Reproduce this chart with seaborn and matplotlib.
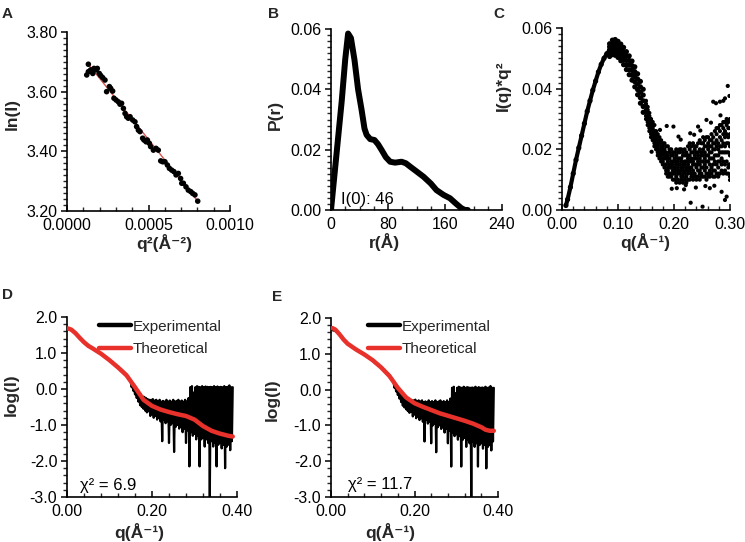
import numpy as np
import matplotlib
matplotlib.use("Agg")
import matplotlib.pyplot as plt
from matplotlib.ticker import MultipleLocator, FormatStrFormatter
import seaborn as sns

# ---------------- data ----------------
# Panel A: Guinier plot
a_q2 = [0.000121, 0.000131, 0.000131, 0.000145, 0.000158, 0.000166, 0.000178, 0.000186, 0.000198,
        0.000207, 0.000219, 0.000233, 0.000243, 0.000260, 0.000268, 0.000280, 0.000288, 0.000301,
        0.000315, 0.000325, 0.000335, 0.000346, 0.000356, 0.000366, 0.000376, 0.000387, 0.000403,
        0.000417, 0.000427, 0.000438, 0.000448, 0.000464, 0.000472, 0.000485, 0.000493, 0.000505,
        0.000513, 0.000530, 0.000546, 0.000560, 0.000575, 0.000587, 0.000601, 0.000616, 0.000628,
        0.000642, 0.000656, 0.000669, 0.000683, 0.000697, 0.000704, 0.000714, 0.000730, 0.000744,
        0.000759, 0.000771, 0.000785, 0.000802]
a_lnI = [3.656, 3.692, 3.667, 3.673, 3.661, 3.678, 3.673, 3.678, 3.661,
         3.654, 3.647, 3.639, 3.600, 3.617, 3.611, 3.602, 3.578, 3.572,
         3.566, 3.558, 3.561, 3.544, 3.527, 3.516, 3.511, 3.516, 3.505,
         3.499, 3.483, 3.471, 3.466, 3.444, 3.438, 3.432, 3.438, 3.427,
         3.416, 3.404, 3.410, 3.404, 3.368, 3.365, 3.365, 3.354, 3.343,
         3.337, 3.332, 3.321, 3.326, 3.309, 3.293, 3.293, 3.281, 3.270,
         3.265, 3.259, 3.254, 3.233]
a_fit_q2 = [0.000131, 0.000802]
a_fit_lnI = [3.692, 3.233]

# Panel B: P(r)
b_r = [0, 5, 10, 15, 20, 24, 28, 33, 38, 43, 47, 50, 55, 61, 66, 71, 77, 83, 90, 99,
       105, 111, 120, 130, 140, 148, 158, 167, 175, 183, 188, 192]
b_p = [0.0, 0.012, 0.024, 0.036, 0.050, 0.0585, 0.057, 0.0497, 0.040, 0.0331, 0.027, 0.0249,
       0.0235, 0.0232, 0.0218, 0.0199, 0.0175, 0.0160, 0.0157, 0.0160, 0.0155, 0.0144, 0.0128,
       0.0110, 0.0088, 0.0066, 0.0050, 0.0039, 0.0022, 0.0006, 0.0, 0.0]

# Panel C: Kratky plot
c_q_rise = [0.007, 0.010, 0.015, 0.020, 0.025, 0.030, 0.035, 0.040, 0.045, 0.050, 0.055,
            0.060, 0.065, 0.070, 0.075, 0.080, 0.085, 0.090]
c_i_rise = [0.0015, 0.0035, 0.0075, 0.0120, 0.0165, 0.0205, 0.0245, 0.0285, 0.0325, 0.0360,
            0.0395, 0.0425, 0.0455, 0.0480, 0.0500, 0.0515, 0.0527, 0.0535]
c_q_peak = [0.085, 0.090, 0.095, 0.100, 0.105, 0.110, 0.115, 0.120, 0.125, 0.130, 0.135,
            0.140, 0.145]
c_i_peak = [
    [0.0548, 0.0538, 0.0527, 0.0516, 0.0506],
    [0.0560, 0.0547, 0.0535, 0.0523, 0.0512],
    [0.0562, 0.0548, 0.0535, 0.0522, 0.0510],
    [0.0556, 0.0543, 0.0530, 0.0516, 0.0503],
    [0.0547, 0.0533, 0.0520, 0.0506, 0.0492],
    [0.0536, 0.0522, 0.0508, 0.0494, 0.0479],
    [0.0522, 0.0508, 0.0493, 0.0478, 0.0463],
    [0.0508, 0.0493, 0.0478, 0.0462, 0.0446],
    [0.0491, 0.0476, 0.0460, 0.0444, 0.0428],
    [0.0472, 0.0456, 0.0440, 0.0423, 0.0406],
    [0.0449, 0.0432, 0.0415, 0.0397, 0.0380],
    [0.0424, 0.0406, 0.0388, 0.0370, 0.0352],
    [0.0398, 0.0379, 0.0360, 0.0341, 0.0322],
]
c_q_noisy = [0.150, 0.153, 0.156, 0.159, 0.162, 0.165, 0.168, 0.171, 0.174, 0.177, 0.180,
             0.183, 0.186, 0.189, 0.192, 0.195, 0.198, 0.201, 0.204, 0.207, 0.210, 0.213,
             0.216, 0.219, 0.222, 0.225, 0.228, 0.231, 0.234, 0.237, 0.240, 0.243, 0.246,
             0.249, 0.252, 0.255, 0.258, 0.261, 0.264, 0.267, 0.270, 0.273, 0.276, 0.279,
             0.282, 0.285, 0.288, 0.291, 0.294, 0.297, 0.300]
c_i_noisy = [
    [.036, .032, .034, .030, .033, .031, .035],
    [.029, .033, .031, .034, .028, .032, .030],
    [.032, .028, .030, .026, .029, .031, .027],
    [.025, .029, .027, .030, .024, .028, .026],
    [.029, .025, .027, .023, .026, .028, .024],
    [.022, .026, .024, .028, .021, .025, .023],
    [.026, .022, .024, .020, .023, .025, .021],
    [.019, .023, .021, .025, .018, .022, .020],
    [.024, .019, .022, .017, .020, .023, .018],
    [.016, .021, .019, .023, .017, .020, .018],
    [.022, .017, .020, .015, .019, .021, .016],
    [.014, .019, .017, .022, .015, .018, .020],
    [.021, .015, .018, .013, .017, .019, .012],
    [.013, .018, .016, .021, .011, .017, .014],
    [.020, .012, .017, .014, .011, .019, .015],
    [.011, .016, .014, .020, .012, .018, .015],
    [.019, .013, .016, .010, .015, .018, .012],
    [.012, .017, .014, .019, .010, .016, .013],
    [.018, .011, .015, .020, .013, .016, .009],
    [.010, .016, .013, .019, .012, .017, .014],
    [.019, .012, .015, .009, .017, .013, .020],
    [.011, .017, .014, .020, .010, .016, .013],
    [.018, .012, .015, .009, .019, .014, .011],
    [.010, .016, .013, .020, .012, .018, .015],
    [.019, .011, .016, .013, .009, .018, .014],
    [.012, .018, .010, .021, .015, .013, .017],
    [.020, .013, .016, .010, .018, .014, .022],
    [.011, .017, .014, .021, .012, .019, .016],
    [.019, .013, .016, .010, .022, .015, .012],
    [.012, .018, .015, .021, .011, .017, .020],
    [.021, .014, .017, .011, .019, .015, .010],
    [.011, .019, .015, .022, .013, .018, .016],
    [.020, .013, .017, .010, .023, .015, .012],
    [.012, .019, .016, .022, .011, .018, .014],
    [.022, .014, .018, .011, .020, .016, .024],
    [.011, .019, .015, .023, .013, .021, .017],
    [.021, .014, .018, .010, .024, .016, .012],
    [.012, .020, .016, .024, .011, .018, .022],
    [.023, .015, .019, .011, .021, .017, .013],
    [.012, .021, .017, .025, .014, .019, .023],
    [.024, .015, .020, .011, .022, .017, .013],
    [.013, .022, .018, .026, .011, .020, .016],
    [.025, .015, .021, .012, .023, .018, .027],
    [.012, .022, .018, .027, .014, .020, .016],
    [.026, .016, .021, .012, .024, .019, .028],
    [.013, .023, .019, .028, .015, .021, .017],
    [.027, .016, .022, .012, .025, .019, .029],
    [.013, .024, .019, .029, .015, .021, .026],
    [.028, .016, .022, .012, .025, .019, .030],
    [.014, .024, .019, .029, .012, .022, .027],
    [.027, .015, .021, .011, .025, .018, .030],
]
c_q_out = [0.296, 0.299, 0.270, 0.275, 0.282, 0.291, 0.258, 0.243, 0.229, 0.199, 0.187, 0.208,
           0.160, 0.175, 0.2298, 0.251, 0.285, 0.291, 0.294, 0.205, 0.264, 0.300, 0.279, 0.221,
           0.288, 0.298, 0.212, 0.236, 0.247, 0.266, 0.283, 0.196, 0.218, 0.239, 0.272, 0.256]
c_i_out = [0.0409, 0.0376, 0.0357, 0.0352, 0.0357, 0.0368, 0.0297, 0.0275, 0.0253, 0.0275,
           0.0277, 0.0242, 0.0192, 0.0264, 0.0024, 0.0011, 0.0060, 0.0033, 0.0044, 0.0072,
           0.0072, 0.0099, 0.0110, 0.0082, 0.0360, 0.0150, 0.0232, 0.0248, 0.0262, 0.0288,
           0.0312, 0.0070, 0.0068, 0.0074, 0.0080, 0.0079]

# Panels D/E: experimental curve (same data in both)
exp_q = [0.003, 0.010, 0.020, 0.030, 0.040, 0.050, 0.060, 0.070, 0.080, 0.090, 0.100, 0.110,
         0.120, 0.130, 0.140, 0.148,
         0.150, 0.152, 0.154, 0.156, 0.158, 0.160, 0.162, 0.164, 0.166, 0.168, 0.170, 0.172,
         0.174, 0.176, 0.178, 0.180, 0.182, 0.184, 0.186, 0.188, 0.190, 0.192, 0.194, 0.196,
         0.198, 0.200, 0.202, 0.204, 0.206, 0.208, 0.210, 0.212, 0.214, 0.216, 0.218, 0.220,
         0.222, 0.224, 0.226, 0.228, 0.230, 0.232, 0.234, 0.236, 0.238, 0.240, 0.242, 0.244,
         0.246, 0.248, 0.250, 0.252, 0.254, 0.256, 0.258, 0.260, 0.262, 0.264, 0.266, 0.268,
         0.270, 0.272, 0.274, 0.276, 0.278, 0.280, 0.282, 0.284, 0.286, 0.288, 0.290, 0.292,
         0.294, 0.296, 0.298, 0.300, 0.302, 0.304, 0.306, 0.308, 0.310, 0.312, 0.314, 0.316,
         0.318, 0.320, 0.322, 0.324, 0.326, 0.328, 0.330, 0.332, 0.334, 0.336, 0.338, 0.340,
         0.342, 0.344, 0.346, 0.348, 0.350, 0.352, 0.354, 0.356, 0.358, 0.360, 0.362, 0.364,
         0.366, 0.368, 0.370, 0.372, 0.374, 0.376, 0.378, 0.380, 0.382, 0.384, 0.386, 0.388,
         0.390]
exp_logI = [1.66, 1.64, 1.55, 1.42, 1.30, 1.19, 1.12, 1.05, 0.98, 0.90, 0.80, 0.70,
            0.62, 0.52, 0.40, 0.25,
            0.20, 0.05, 0.12, -0.05, 0.02, -0.15, -0.05, -0.25, -0.10, -0.35, -0.12, -0.45,
            -0.15, -0.50, -0.20, -0.55, -0.22, -0.60, -0.25, -0.65, -0.28, -0.62, -0.30, -0.75,
            -0.30, -0.70, -0.28, -0.80, -0.32, -0.75, -0.30, -0.85, -0.33, -0.80, -0.30, -0.90,
            -0.35, -1.45, -0.33, -0.85, -0.35, -0.95, -0.30, -0.90, -0.35, -1.50, -0.32, -1.00,
            -0.35, -0.95, -0.30, -1.75, -0.35, -1.05, -0.33, -1.00, -0.30, -1.10, -0.35, -1.05,
            -0.32, -1.20, -0.35, -1.10, -0.30, -1.50, -0.35, -1.15, -0.25, -2.15, 0.05, -1.20,
            0.08, -1.30, -0.10, -1.25, 0.05, -1.40, 0.08, -1.30, 0.06, -2.15, 0.05, -1.40,
            0.08, -1.35, 0.05, -1.60, 0.07, -1.40, 0.06, -1.50, 0.05, -3.00, 0.06, -1.45,
            0.05, -1.60, 0.08, -1.50, 0.05, -2.15, 0.07, -1.55, 0.05, -1.50, 0.06, -1.65,
            0.05, -1.55, 0.08, -2.20, 0.05, -1.60, 0.06, -1.55, 0.10, -1.70, 0.05, -1.45,
            0.05]
d_theo_q = [0.003, 0.01, 0.02, 0.03, 0.04, 0.05, 0.06, 0.08, 0.10, 0.12, 0.14, 0.16, 0.18,
            0.20, 0.22, 0.24, 0.26, 0.28, 0.30, 0.32, 0.34, 0.36, 0.38, 0.39]
d_theo_logI = [1.68, 1.65, 1.55, 1.42, 1.30, 1.20, 1.13, 0.98, 0.80, 0.60, 0.38, 0.05, -0.30,
               -0.47, -0.57, -0.64, -0.70, -0.75, -0.85, -1.03, -1.16, -1.24, -1.30, -1.32]
e_theo_q = [0.003, 0.01, 0.02, 0.03, 0.04, 0.05, 0.06, 0.08, 0.10, 0.12, 0.14, 0.16, 0.18,
            0.20, 0.22, 0.24, 0.26, 0.28, 0.30, 0.32, 0.34, 0.36, 0.37, 0.38, 0.39]
e_theo_logI = [1.72, 1.68, 1.55, 1.40, 1.28, 1.20, 1.12, 0.98, 0.82, 0.62, 0.38, 0.05, -0.22,
               -0.38, -0.48, -0.57, -0.66, -0.73, -0.80, -0.87, -0.95, -1.05, -1.12, -1.15, -1.15]
chi2_labels = ["χ² = 6.9", "χ² = 11.7"]
i0_label = "I(0): 46"

# ---------------- style ----------------
sns.set_theme(style="ticks")
plt.rcParams["font.family"] = ["Liberation Sans", "DejaVu Sans"]
plt.rcParams["axes.unicode_minus"] = False

W, H = 745, 542
fig = plt.figure(figsize=(W / 100, H / 100), dpi=100)


def rect(l, t, r, b):
    return [l / W, 1 - b / H, (r - l) / W, (b - t) / H]


TICK_FS = 11.5
LAB_FS = 12.5


def style(ax, xmaj, xmin, ymaj, ymin, xfmt, yfmt):
    for s in ["top", "right"]:
        ax.spines[s].set_visible(False)
    for s in ["left", "bottom"]:
        ax.spines[s].set_linewidth(1.2)
        ax.spines[s].set_color("black")
    ax.xaxis.set_major_locator(MultipleLocator(xmaj))
    ax.xaxis.set_minor_locator(MultipleLocator(xmin))
    ax.yaxis.set_major_locator(MultipleLocator(ymaj))
    ax.yaxis.set_minor_locator(MultipleLocator(ymin))
    ax.xaxis.set_major_formatter(FormatStrFormatter(xfmt))
    ax.yaxis.set_major_formatter(FormatStrFormatter(yfmt))
    ax.tick_params(axis="x", which="major", direction="in", length=4, width=1.1,
                   labelsize=TICK_FS, pad=5, colors="black")
    ax.tick_params(axis="x", which="minor", direction="in", length=3, width=1.0)
    ax.tick_params(axis="y", which="major", direction="out", length=4, width=1.1,
                   labelsize=TICK_FS, pad=3, colors="black")
    ax.tick_params(axis="y", which="minor", direction="out", length=3, width=1.0)
    ax.set_facecolor("white")


def labels(ax, box, xl, yl, xc, xy, yc, yy):
    l, t, r, b = box
    ax.set_xlabel(xl, fontsize=LAB_FS, fontweight="bold", va="center", ha="center")
    ax.set_ylabel(yl, fontsize=LAB_FS, fontweight="bold", va="center", ha="center")
    ax.xaxis.set_label_coords((xc - l) / (r - l), (b - xy) / (b - t))
    ax.yaxis.set_label_coords((yc - l) / (r - l), (b - yy) / (b - t))


# ---- Panel A ----
boxA = (67, 32, 230, 211)
axA = fig.add_axes(rect(*boxA))
sns.lineplot(x=a_fit_q2, y=a_fit_lnI, ax=axA, color="#d9534f", lw=1.0, sort=False,
             estimator=None)
sns.scatterplot(x=a_q2, y=a_lnI, ax=axA, color="black", s=16, edgecolor="none", zorder=3)
axA.set_xlim(0, 0.001)
axA.set_ylim(3.2, 3.8)
style(axA, 0.0005, 0.0001, 0.2, 0.02, "%.4f", "%.2f")
labels(axA, boxA, "q²(Å⁻²)", "ln(I)", 164, 243, 12, 114)

# ---- Panel B ----
boxB = (331, 29, 502, 210)
axB = fig.add_axes(rect(*boxB))
sns.lineplot(x=b_r, y=b_p, ax=axB, color="black", lw=4.3, sort=False, estimator=None)
axB.set_xlim(0, 240)
axB.set_ylim(0, 0.06)
style(axB, 80, 20, 0.02, 0.002, "%d", "%.2f")
labels(axB, boxB, "r(Å)", "P(r)", 384, 242, 275, 115)
axB.text(14, 0.0035, i0_label, fontsize=12, va="center", ha="left", color="black")

# ---- Panel C ----
boxC = (562, 28, 730, 210)
axC = fig.add_axes(rect(*boxC))
sns.lineplot(x=c_q_rise, y=c_i_rise, ax=axC, color="black", lw=3.0, sort=False,
             estimator=None)
pk_x, pk_y = [], []
for q, row in zip(c_q_peak, c_i_peak):
    for v in row:
        pk_x.append(q)
        pk_y.append(v)
pk_x += c_q_rise
pk_y += c_i_rise
sns.scatterplot(x=pk_x, y=pk_y, ax=axC, color="black", s=14, edgecolor="none", zorder=3)
nz_x, nz_y = [], []
for q, row in zip(c_q_noisy, c_i_noisy):
    for v in row:
        nz_x.append(q)
        nz_y.append(v)
nz_x += c_q_out
nz_y += c_i_out
sns.scatterplot(x=nz_x, y=nz_y, ax=axC, color="black", s=9, edgecolor="none", zorder=3)
axC.set_xlim(0, 0.30)
axC.set_ylim(0, 0.06)
style(axC, 0.10, 0.02, 0.02, 0.002, "%.2f", "%.2f")
labels(axC, boxC, "q(Å⁻¹)", "I(q)*q²", 645, 242, 503, 86)


# ---- Panels D, E ----
def fit_panel(box, theo_q, theo_logI, chi_txt, chi_xy, ylab_xy, xlab_xy, leg_anchor):
    ax = fig.add_axes(rect(*box))
    sns.lineplot(x=exp_q, y=exp_logI, ax=ax, color="black", lw=1.6, sort=False,
                 estimator=None, label="Experimental")
    sns.lineplot(x=theo_q, y=theo_logI, ax=ax, color="#e8312a", lw=3.2, sort=False,
                 estimator=None, label="Theoretical", zorder=4)
    ax.set_xlim(0, 0.40)
    ax.set_ylim(-3.0, 2.0)
    style(ax, 0.20, 0.04, 1.0, 0.2, "%.2f", "%.1f")
    labels(ax, box, "q(Å⁻¹)", "log(I)", xlab_xy[0], xlab_xy[1], ylab_xy[0], ylab_xy[1])
    leg = ax.legend(loc="upper left", bbox_to_anchor=leg_anchor, frameon=False, fontsize=11,
                    handlelength=2.1, handletextpad=0.1, labelspacing=0.55, borderpad=0,
                    borderaxespad=0)
    for h in leg.get_lines():
        h.set_linewidth(3.2)
    ax.text(chi_xy[0], chi_xy[1], chi_txt, fontsize=12, va="center", ha="left",
            color="black")
    return ax


boxD = (67, 317, 237, 497)
fit_panel(boxD, d_theo_q, d_theo_logI, chi2_labels[0], (0.03, -2.67), (11, 395), (139, 532),
          (0.19, 0.985))
boxE = (331, 318, 498, 497)
fit_panel(boxE, e_theo_q, e_theo_logI, chi2_labels[1], (0.04, -2.64), (272, 400), (390, 532),
          (0.22, 0.99))

# ---- panel letters ----
for letter, (x, y) in zip("ABCDE", [(2, 7), (268, 7), (493, 7), (2, 288), (272, 290)]):
    fig.text(x / W, 1 - y / H, letter, fontsize=11, fontweight="bold", va="top", ha="left")

fig.savefig("out.png", dpi=100, facecolor="white")
